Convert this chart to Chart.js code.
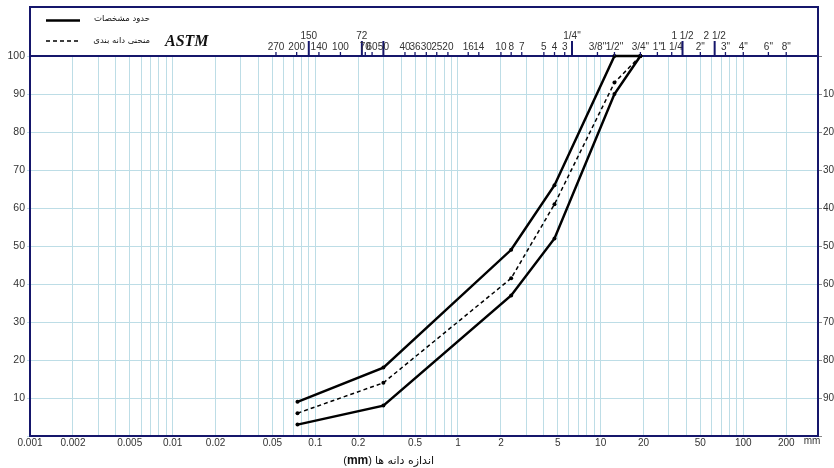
<!DOCTYPE html>
<html>
<head>
<meta charset="utf-8">
<script src="https://cdn.jsdelivr.net/npm/chart.js@4.4.1/dist/chart.umd.min.js"></script>
<style>
html,body{margin:0;padding:0;background:#fff;}
#wrap{width:834px;height:468px;}
</style>
</head>
<body>
<div id="wrap"><canvas id="grading" width="834" height="468"></canvas></div>
<script>
// sieve openings (mm) where the curves were read
const sizes=[0.075,0.3,2.36,4.75,12.5,19];
const upperLimit=[9,18,49,66,100,100];
const lowerLimit=[3,8,37,52,90,100];
const gradingCurve=[6,14,41.5,61,93,100];

// bottom axis labels (mm)
const xTickLabels=[0.001,0.002,0.005,0.01,0.02,0.05,0.1,0.2,0.5,1,2,5,10,20,50,100,200];

// ASTM sieve scale on the top axis
const sieveLabels=['270','200','150','140','100','72','70','60','50','40','36','30','25','20','16','14','10','8','7','5','4','3','1/4"','3/8"','1/2"','3/4"','1"','1 1/4','1 1/2','2"','2 1/2','3"','4"','6"','8"'];
const sieveSizes=[0.053,0.074,0.09,0.106,0.15,0.212,0.224,0.25,0.3,0.425,0.5,0.6,0.71,0.85,1.18,1.4,2.0,2.36,2.8,4.0,4.75,5.6,6.3,9.5,12.5,19,25,31.5,37.5,50,63,75,100,150,200];
const raisedSieves=['150','72','1/4"','1 1/2','2 1/2'];
const majorSieves=['150','72','50','1/4"','1 1/2','2 1/2'];

const legendLimits='حدود مشخصات';
const legendCurve='منحنی دانه بندی';
const xTitle='اندازه دانه ها';

const NAVY='#15166b';
const GRID='#bddde6';
const TXT='#333';
const SANS='"Liberation Sans", Arial, sans-serif';
const FA='"DejaVu Sans", sans-serif';

// log grid: 1..9 x 10^n
const gridValues=[];
for(let e=-3;e<=2;e++){
 for(let m=1;m<=9;m++){
  const v=Number((m*Math.pow(10,e)).toPrecision(3));
  if(v<=200) gridValues.push(v);
 }
}
const isLabel=v=>xTickLabels.some(t=>Math.abs(v-t)/t<1e-6);

const pts=arr=>sizes.map((x,i)=>({x:x,y:arr[i]}));

const decor={
 id:'decor',
 afterDraw(chart){
  const ctx=chart.ctx, ca=chart.chartArea, top=chart.scales.x2;
  ctx.save();
  // outer frame above the plot
  ctx.strokeStyle=NAVY; ctx.lineWidth=2;
  ctx.beginPath();
  ctx.moveTo(ca.left,ca.top); ctx.lineTo(ca.left,7); ctx.lineTo(ca.right,7); ctx.lineTo(ca.right,ca.top);
  ctx.stroke();

  // legend
  ctx.strokeStyle='#000';
  ctx.lineWidth=2.5; ctx.setLineDash([]);
  ctx.beginPath(); ctx.moveTo(46,20.5); ctx.lineTo(80,20.5); ctx.stroke();
  ctx.lineWidth=1.5; ctx.setLineDash([4,3]);
  ctx.beginPath(); ctx.moveTo(46,41); ctx.lineTo(80,41); ctx.stroke();
  ctx.setLineDash([]);
  ctx.fillStyle='#111';
  ctx.font='8.5px '+FA;
  ctx.direction='rtl'; ctx.textAlign='right'; ctx.textBaseline='middle';
  ctx.fillText(legendLimits,150,19);
  ctx.fillText(legendCurve,150,41);
  ctx.direction='ltr';
  ctx.textAlign='left';
  ctx.font='bold italic 16px "Liberation Serif", serif';
  ctx.fillStyle='#111';
  ctx.fillText('ASTM',165,42);

  // sieve ticks and labels
  sieveSizes.forEach((s,i)=>{
   const x=top.getPixelForValue(s);
   const lab=sieveLabels[i];
   ctx.strokeStyle=NAVY;
   ctx.beginPath();
   if(majorSieves.includes(lab)){
    ctx.lineWidth=2; ctx.moveTo(x,ca.top); ctx.lineTo(x,41);
   }else{
    ctx.lineWidth=1.3; ctx.moveTo(x,ca.top); ctx.lineTo(x,52);
   }
   ctx.stroke();
   ctx.fillStyle=TXT; ctx.font='10px '+SANS; ctx.textAlign='center'; ctx.textBaseline='middle';
   ctx.fillText(lab,x,raisedSieves.includes(lab)?36:47);
  });

  // unit and axis title
  ctx.fillStyle=TXT; ctx.font='10px '+SANS; ctx.textAlign='center'; ctx.textBaseline='middle';
  ctx.fillText('mm',812,441);
  ctx.fillStyle='#111';
  ctx.font='11px '+FA;
  ctx.direction='rtl'; ctx.textAlign='right';
  ctx.fillText(xTitle,434,461);
  const w=ctx.measureText(xTitle).width;
  ctx.direction='ltr';
  let xr=434-w-3;
  ctx.font='11px '+SANS; ctx.textAlign='right';
  ctx.fillText(')',xr,461); xr-=ctx.measureText(')').width;
  ctx.font='bold 12px '+SANS;
  ctx.fillText('mm',xr,461); xr-=ctx.measureText('mm').width;
  ctx.font='11px '+SANS;
  ctx.fillText('(',xr,461);
  ctx.restore();
 }
};

const lineStyle={borderColor:'#000',pointRadius:2,pointBackgroundColor:'#000',pointBorderWidth:0,tension:0,clip:false,xAxisID:'x',yAxisID:'y'};

new Chart(document.getElementById('grading'),{
 type:'line',
 data:{datasets:[
  Object.assign({label:legendLimits,data:pts(upperLimit),borderWidth:2.5},lineStyle),
  Object.assign({label:legendLimits,data:pts(lowerLimit),borderWidth:2.5},lineStyle),
  Object.assign({label:legendCurve,data:pts(gradingCurve),borderWidth:1.5,borderDash:[4,3]},lineStyle)
 ]},
 options:{
  responsive:false,
  animation:false,
  layout:{padding:0},
  plugins:{legend:{display:false},tooltip:{enabled:false}},
  scales:{
   x:{
    type:'logarithmic',position:'bottom',min:0.001,max:334,
    afterBuildTicks:s=>{s.ticks=gridValues.map(v=>({value:v}));},
    afterFit:s=>{s.height=32;},
    ticks:{autoSkip:false,maxRotation:0,padding:1,color:TXT,font:{family:SANS,size:10},
     callback:v=>isLabel(v)?String(v):''},
    grid:{color:GRID,lineWidth:1,drawTicks:false},
    border:{color:NAVY,width:2}
   },
   x2:{
    type:'logarithmic',position:'top',min:0.001,max:334,
    afterFit:s=>{s.height=56;},
    ticks:{display:false},
    grid:{display:false},
    border:{color:NAVY,width:2}
   },
   y:{
    position:'left',min:0,max:100,
    afterFit:s=>{s.width=30;},
    ticks:{stepSize:10,padding:2,color:TXT,font:{family:SANS,size:10.5},callback:v=>v>0?String(v):''},
    grid:{color:GRID,tickLength:3},
    border:{color:NAVY,width:2}
   },
   y2:{
    position:'right',reverse:true,min:0,max:100,
    afterFit:s=>{s.width=16;},
    ticks:{stepSize:10,padding:1,color:TXT,font:{family:SANS,size:10},callback:v=>(v>0&&v<100)?String(v):''},
    grid:{drawOnChartArea:false,tickLength:4,color:'#888'},
    border:{color:NAVY,width:2}
   }
  }
 },
 plugins:[decor]
});
</script>
</body>
</html>
